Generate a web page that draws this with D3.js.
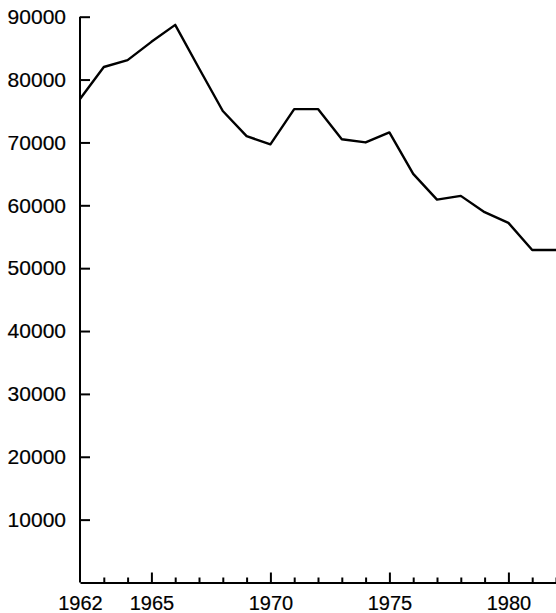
<!DOCTYPE html>
<html>
<head>
<meta charset="utf-8">
<script src="https://cdn.jsdelivr.net/npm/d3@7"></script>
<style>
  body { margin: 0; background: #fff; }
  text { font-family: "Liberation Sans", Arial, sans-serif; }
</style>
</head>
<body>
<svg id="chart" width="556" height="613"></svg>
<script>
const years = d3.range(1962, 1983);
const values = [76900, 82000, 83100, 86000, 88700, 81800, 75000, 71000, 69700, 75300,
  75300, 70500, 70000, 71600, 65000, 60900, 61500, 58900, 57200, 52900, 52900];
const yTicks = [10000, 20000, 30000, 40000, 50000, 60000, 70000, 80000, 90000];
const xLabels = [1962, 1965, 1970, 1975, 1980];
const xMajor = [1965, 1970, 1975, 1980];

const width = 556, height = 613;
const svg = d3.select("#chart");

const x = d3.scaleLinear().domain([1962, 1982]).range([80, 556]);
const y = d3.scaleLinear().domain([0, 90000]).range([582.5, 16.7]);

// y axis, ticks inside
const gy = svg.append("g")
  .attr("transform", `translate(${x(1962)},0)`)
  .call(d3.axisLeft(y).tickValues(yTicks).tickSize(-10).tickSizeOuter(0).tickPadding(14).tickFormat(d3.format("d")));
gy.select(".domain").attr("stroke", "#000").attr("stroke-width", 2).attr("d", `M0,${y(0)}V${y(90000)}`);
gy.selectAll(".tick line").attr("stroke", "#000").attr("stroke-width", 2);
gy.selectAll(".tick text").attr("font-size", 21).attr("fill", "#000")
  .attr("stroke", "#000").attr("stroke-width", 0.2);

// x axis, ticks inside, longer at labelled years
const gx = svg.append("g")
  .attr("transform", `translate(0,${y(0)})`)
  .call(d3.axisBottom(x).tickValues(years).tickSize(-5).tickSizeOuter(0).tickPadding(13)
    .tickFormat(d => xLabels.includes(d) ? String(d) : ""));
gx.select(".domain").attr("stroke", "#000").attr("stroke-width", 2);
gx.selectAll(".tick line")
  .attr("stroke", "#000")
  .attr("stroke-width", 2)
  .attr("y2", d => xMajor.includes(d) ? -10 : (d === 1962 ? 0 : -5));
gx.selectAll(".tick text").attr("font-size", 20).attr("fill", "#000")
  .attr("stroke", "#000").attr("stroke-width", 0.2);

// data line
const line = d3.line().x((d, i) => x(years[i])).y(d => y(d));
svg.append("path")
  .datum(values)
  .attr("fill", "none")
  .attr("stroke", "#000")
  .attr("stroke-width", 2.4)
  .attr("stroke-linejoin", "round")
  .attr("d", line);
</script>
</body>
</html>
